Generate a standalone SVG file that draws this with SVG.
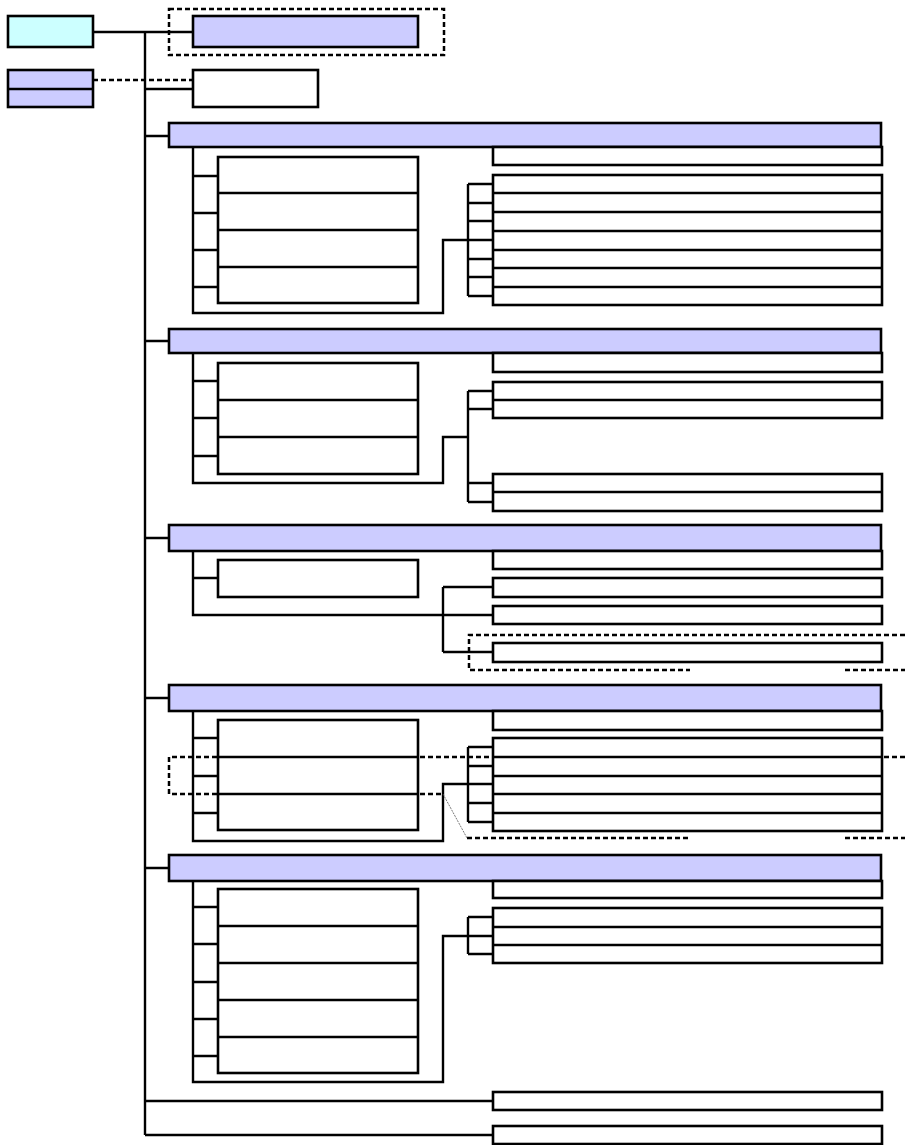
<svg xmlns="http://www.w3.org/2000/svg" width="905" height="1145" viewBox="0 0 905 1145">
<style>
.b{fill:#fff;stroke:#000;stroke-width:2.6}
.l{fill:#CCCCFF;stroke:#000;stroke-width:2.6}
.c{fill:#CCFFFF;stroke:#000;stroke-width:2.6}
.w{fill:none;stroke:#000;stroke-width:2.4}
.d{fill:none;stroke:#000;stroke-width:2.5;stroke-dasharray:5 3}
.t{fill:none;stroke:#555;stroke-width:0.8;stroke-dasharray:2 1}
</style>
<rect width="905" height="1145" fill="#fff"/>
<g id="connectors">
<path class="w" d="M93 32H193M145 32V1135M145 89H193"/>
<path class="d" d="M93 80H193"/>
<path class="d" d="M169 9H444V55H169Z"/>
<path class="w" d="M145 136H169M193 147V313H443V240H493M193 176H218M193 213H218M193 250H218M193 287H218M468 184V296M468 184H493M468 203H493M468 221H493M468 259H493M468 277H493M468 296H493"/>
<path class="w" d="M145 341H169M193 353V483H443V437H468M193 381H218M193 418H218M193 456H218M468 391V502M468 391H493M468 409H493M468 483H493M468 502H493"/>
<path class="w" d="M145 538H169M193 551V615H493M193 578H218M443 587V652M443 587H493M443 652H493"/>
<path class="d" d="M905 635H469V670H690M845 670H905"/>
<path class="w" d="M145 698H169M193 711V841H443V784H493M193 738H218M193 776H218M193 813H218M468 747V822M468 747H493M468 766H493M468 803H493M468 822H493"/>
<path class="d" d="M905 757H169V794H443M467 838H690M845 838H905"/>
<path class="t" d="M443 794L467 838"/>
<path class="w" d="M145 868H169M193 881V1082H443V936H493M193 907H218M193 944H218M193 982H218M193 1019H218M193 1056H218M468 917V954M468 917H493M468 954H493"/>
<path class="w" d="M145 1101H493M145 1135H493"/>
</g>
<g id="root"><rect class="c" x="8" y="16" width="85" height="31"/></g>
<g id="legend"><rect class="l" x="8" y="70" width="85" height="37"/><path class="w" d="M8 89H93"/></g>
<g id="top1"><rect class="l" x="193" y="16" width="225" height="31"/></g>
<g id="top2"><rect class="b" x="193" y="70" width="125" height="37"/></g>
<g id="sec1">
<rect class="l" x="169" y="123" width="712" height="24"/>
<rect class="b" x="493" y="147" width="389" height="18"/>
<rect class="b" x="218" y="157" width="200" height="146"/>
<path class="w" d="M218 193H418M218 230H418M218 267H418"/>
<rect class="b" x="493" y="175" width="389" height="130"/>
<path class="w" d="M493 193H882M493 212H882M493 231H882M493 250H882M493 268H882M493 287H882"/>
</g>
<g id="sec2">
<rect class="l" x="169" y="329" width="712" height="24"/>
<rect class="b" x="493" y="353" width="389" height="19"/>
<rect class="b" x="218" y="363" width="200" height="111"/>
<path class="w" d="M218 400H418M218 437H418"/>
<rect class="b" x="493" y="382" width="389" height="36"/>
<path class="w" d="M493 400H882"/>
<rect class="b" x="493" y="474" width="389" height="37"/>
<path class="w" d="M493 492H882"/>
</g>
<g id="sec3">
<rect class="l" x="169" y="525" width="712" height="26"/>
<rect class="b" x="493" y="551" width="389" height="18"/>
<rect class="b" x="218" y="560" width="200" height="37"/>
<rect class="b" x="493" y="578" width="389" height="19"/>
<rect class="b" x="493" y="606" width="389" height="18"/>
<rect class="b" x="493" y="643" width="389" height="19"/>
</g>
<g id="sec4">
<rect class="l" x="169" y="685" width="712" height="26"/>
<rect class="b" x="493" y="711" width="389" height="19"/>
<rect class="b" x="218" y="720" width="200" height="110"/>
<path class="w" d="M218 757H418M218 794H418"/>
<rect class="b" x="493" y="738" width="389" height="93"/>
<path class="w" d="M493 757H882M493 776H882M493 794H882M493 813H882"/>
</g>
<g id="sec5">
<rect class="l" x="169" y="855" width="712" height="26"/>
<rect class="b" x="493" y="881" width="389" height="17"/>
<rect class="b" x="218" y="889" width="200" height="184"/>
<path class="w" d="M218 926H418M218 963H418M218 1000H418M218 1037H418"/>
<rect class="b" x="493" y="908" width="389" height="55"/>
<path class="w" d="M493 927H882M493 945H882"/>
</g>
<g id="end1"><rect class="b" x="493" y="1092" width="389" height="18"/></g>
<g id="end2"><rect class="b" x="493" y="1126" width="389" height="18"/></g>
</svg>
